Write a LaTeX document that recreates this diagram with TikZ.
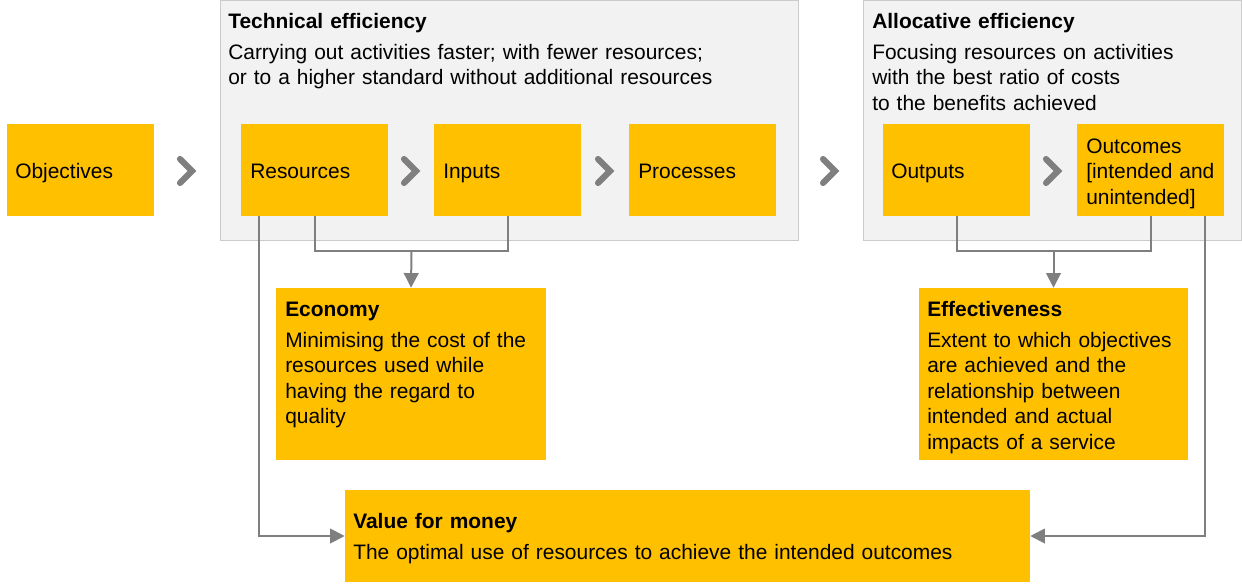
\documentclass[tikz,border=0pt]{standalone}
\usepackage{fontspec}
\setmainfont{Liberation Sans}
\usetikzlibrary{arrows.meta,fit}
\definecolor{ygold}{HTML}{FFC000}
\definecolor{agrey}{HTML}{7F7F7F}
\definecolor{pfill}{HTML}{F2F2F2}
\definecolor{pline}{HTML}{CBCBCB}
\begin{document}
\begin{tikzpicture}[x=0.75pt,y=-0.75pt,
  panel/.style={draw=pline, fill=pfill, line width=0.75pt, inner sep=0pt},
  ybox/.style={fill=ygold, inner sep=0pt},
  txt/.style={anchor=base west, inner sep=0pt, align=left, font=\fontsize{15.7pt}{19.125pt}\selectfont},
  chev/.style={draw=agrey, line width=4.6pt, line cap=round, miter limit=10},
  conn/.style={draw=agrey, line width=1.5pt},
  arr/.style={conn, -{Triangle[length=11pt,width=11pt]}}]
\useasboundingbox (0,0) rectangle (1242,586);
% panels
\node[panel, fit={(220,0.5)(798,240)}] (tpanel) {};
\node[panel, fit={(863,0.5)(1241.5,240)}] (apanel) {};
% yellow boxes
\node[ybox, fit={(7,124)(154,216)}] (obj) {};
\node[ybox, fit={(241,124)(388,216)}] (res) {};
\node[ybox, fit={(434,124)(581,216)}] (inp) {};
\node[ybox, fit={(629,124)(776,216)}] (proc) {};
\node[ybox, fit={(883,124)(1030,216)}] (outp) {};
\node[ybox, fit={(1077,124)(1224,216)}] (outc) {};
\node[ybox, fit={(276,288)(546,460)}] (eco) {};
\node[ybox, fit={(919,288)(1188,460)}] (eff) {};
\node[ybox, fit={(345,490)(1030,582)}] (vfm) {};
% chevrons
\foreach \cx in {187,411,605,830,1053}{
  \draw[chev] (\cx-7,159) -- (\cx+5,171) -- (\cx-7,183);
}
% connectors
\coordinate (j1) at (411.5,251);
\coordinate (j2) at (1053.5,251);
\draw[conn] (res.south) |- (j1) -| (inp.south);
\draw[arr] (j1) -- (eco.north);
\draw[conn] (outp.south) |- (j2) -| (outc.south);
\draw[arr] (j2) -- (eff.north);
\draw[arr] ([xshift=13.5pt]res.south west) |- (vfm.west);
\draw[arr] ([xshift=-14.25pt]outc.south east) |- (vfm.east);
% texts
\node[txt, text width=380pt] (ttech) at (228,28.5) {\textbf{Technical efficiency}\\[4.1pt]Carrying out activities faster; with fewer resources;\\or to a higher standard without additional resources};
\node[txt, text width=270pt] (talloc) at (872,28.5) {\textbf{Allocative efficiency}\\[4.1pt]Focusing resources on activities\\with the best ratio of costs\\to the benefits achieved};
\node[txt] (tobj) at (15,178.5) {Objectives};
\node[txt] (tres) at (250,178.5) {Resources};
\node[txt] (tinp) at (443,178.5) {Inputs};
\node[txt] (tproc) at (638,178.5) {Processes};
\node[txt] (toutp) at (891,178.5) {Outputs};
\node[txt, text width=105pt] (toutc) at (1086,153) {Outcomes\\{[intended and}\\unintended]};
\node[txt, text width=195pt] (teco) at (285,316.5) {\textbf{Economy}\\[4.1pt]Minimising the cost of the\\resources used while\\having the regard to\\quality};
\node[txt, text width=195pt] (teff) at (927,316.5) {\textbf{Effectiveness}\\[4.1pt]Extent to which objectives\\are achieved and the\\relationship between\\intended and actual\\impacts of a service};
\node[txt, text width=500pt] (tvfm) at (353,528.5) {\textbf{Value for money}\\[4.1pt]The optimal use of resources to achieve the intended outcomes};
\end{tikzpicture}
\end{document}
